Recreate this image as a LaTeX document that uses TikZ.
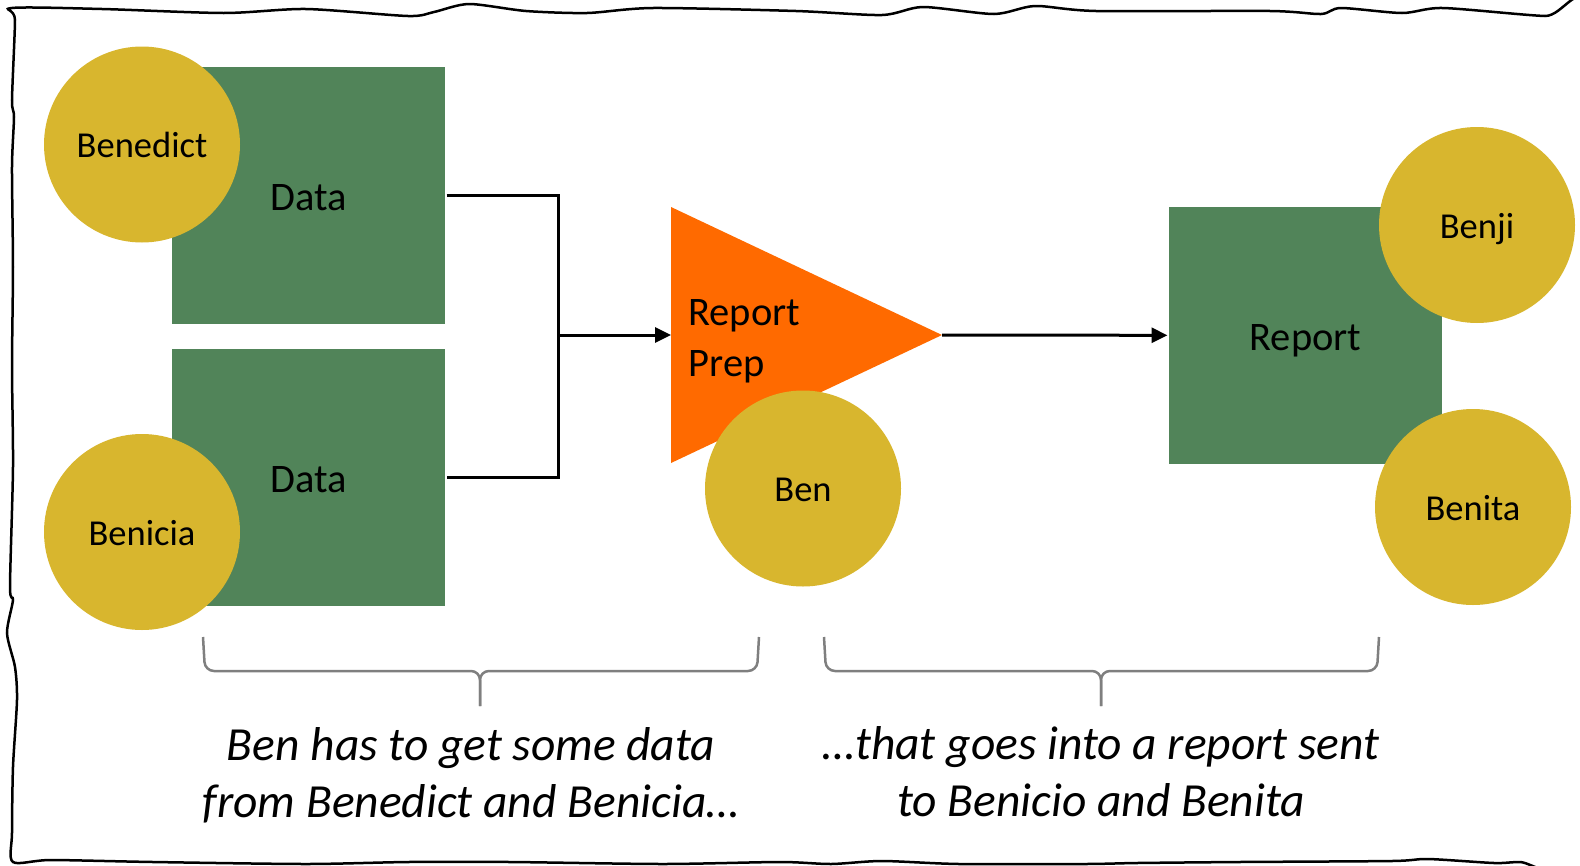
\documentclass[tikz,border=0pt]{standalone}
\usepackage{fontspec}
\setmainfont{Carlito}
\usepackage{tikz}
\usetikzlibrary{arrows.meta,shapes.geometric,positioning}

\definecolor{boxgreen}{RGB}{81,132,89}
\definecolor{bengold}{RGB}{216,182,46}
\definecolor{preporange}{RGB}{255,106,0}
\definecolor{bracegray}{RGB}{127,127,127}

\begin{document}
\begin{tikzpicture}[x=1pt,y=-1pt,>={Triangle[length=16pt,width=15pt]},line width=3pt,
    box/.style={rectangle,fill=boxgreen,minimum width=273pt,minimum height=257pt,inner sep=0pt,text height=34.5pt,text depth=5.5pt,font=\fontsize{40.5}{49}\selectfont},
    person/.style={circle,fill=bengold,minimum size=196pt,inner sep=0pt,text height=31pt,text depth=5pt,font=\fontsize{36.5}{44}\selectfont},
    prep/.style={isosceles triangle,isosceles triangle stretches,shape border rotate=0,fill=preporange,minimum width=256pt,minimum height=271pt,inner sep=0pt,outer sep=0pt},
    note/.style={align=center,font=\fontsize{47.5}{57}\selectfont\itshape},
    bracket/.style={draw=bracegray,line width=2.5pt,rounded corners=9pt}]
    \useasboundingbox (0,0) rectangle (1580,865);

    % sketchy frame
    \draw[line width=2.5pt] plot[smooth cycle,tension=0.45] coordinates {
      (12,8) (102,9) (224,13) (306,9) (408,16) (434,12) (469,4) (526,11) (587,13) (653,8)
      (796,11) (882,15) (923,7) (994,14) (1035,6) (1096,11) (1270,11) (1321,14) (1341,8)
      (1402,13) (1443,8) (1545,16) (1586,12)
      (1586,300) (1586,600) (1586,862)
      (1520,862) (1494,863) (1428,859) (1392,861) (1239,862) (1137,863) (1086,864) (959,864)
      (882,861) (831,864) (780,862) (663,864) (510,862) (408,862) (306,864) (153,862) (51,860) (13,862)
      (12,833) (13,767) (17,700) (15,667) (7,633) (13,600) (10,587) (13,467) (12,367) (13,267)
      (12,167) (14,117) (12,100) (15,20)};

    \node[box] (data1) at (308.5,195.5) {Data};
    \node[box] (data2) [below=22pt of data1] {Data};
    \node[prep,anchor=lower side] (prep) at (671,335) {};
    \node[anchor=west,align=left,inner sep=0pt,font=\fontsize{40.5}{51}\selectfont] (preplabel) at (687,341) {Report\\Prep};
    \node[box] (report) at (1305.5,335.5) {Report};

    \node[person] (benedict) at (142,144.5) {Benedict};
    \node[person] (benicia) at (142,532) {Benicia};
    \node[person] (ben) at (803,488.5) {Ben};
    \node[person] (benji) at (1477,225) {Benji};
    \node[person] (benita) at (1473,507) {Benita};

    \coordinate (join) at (558,335);
    \draw (data1.east) -| (join) |- (data2.east);
    \path[->]
    (join) edge (prep.lower side)
    (prep.apex) edge (report);

    % braces
    \draw[bracket] (203,637) -- (205,671) -- (480,671) -- (480,706);
    \draw[bracket] (759,637) -- (757,671) -- (480,671) -- (480,706);
    \draw[bracket] (824,637) -- (826,671) -- (1101,671) -- (1101,706);
    \draw[bracket] (1379,637) -- (1377,671) -- (1101,671) -- (1101,706);

    \node[note] (leftnote) at (471,775) {Ben has to get some data\\from Benedict and Benicia…};
    \node[note] (rightnote) at (1101,772) {…that goes into a report sent\\to Benicio and Benita};
  \end{tikzpicture}
\end{document}
